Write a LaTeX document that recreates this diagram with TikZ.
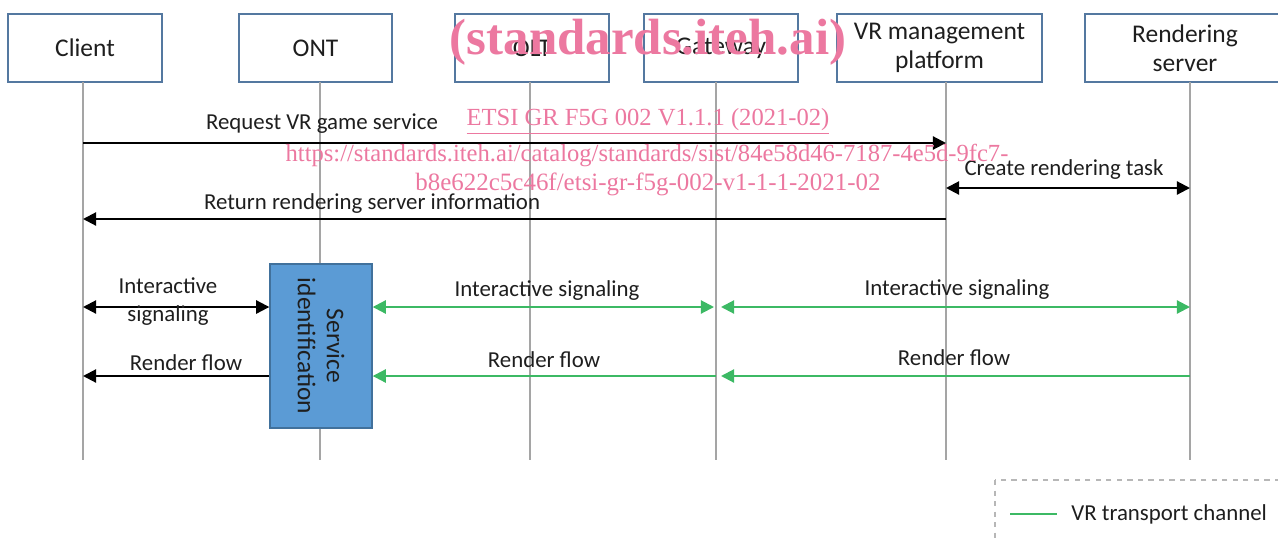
\documentclass[tikz,border=0pt]{standalone}
\usepackage{fontspec}
\setmainfont{Carlito}
\newfontfamily\wmfont{Liberation Serif}
\usetikzlibrary{arrows.meta}
\definecolor{boxborder}{RGB}{84,120,160}
\definecolor{lifegray}{RGB}{165,165,165}
\definecolor{vrgreen}{RGB}{60,185,100}
\definecolor{sidfill}{RGB}{91,155,213}
\definecolor{sidborder}{RGB}{65,113,156}
\definecolor{wmpink}{RGB}{236,120,160}
\definecolor{txt}{RGB}{30,30,30}
\begin{document}
\begin{tikzpicture}[x=0.02cm,y=-0.02cm,
  font=\fontsize{13}{16}\selectfont, text=txt,
  actor/.style={draw=boxborder, line width=1pt, fill=white, minimum height=1.36cm, align=center, inner sep=0pt, font=\fontsize{14.5}{16.5}\selectfont},
  life/.style={draw=lifegray, line width=0.9pt},
  tip/.tip={Triangle[length=7.5pt,width=7.5pt]},
  msg/.style={line width=1.2pt, draw=black, -tip},
  dmsg/.style={line width=1.2pt, draw=black, tip-tip},
  gmsg/.style={line width=1.2pt, draw=vrgreen, -tip},
  dgmsg/.style={line width=1.2pt, draw=vrgreen, tip-tip},
  lbl/.style={inner sep=0pt, align=center},
  sidbox/.style={draw=sidborder, line width=0.8pt, fill=sidfill, minimum width=2.04cm, minimum height=3.28cm, inner sep=0pt},
  wm/.style={text=wmpink, inner sep=0pt}
]
\useasboundingbox (0,0) rectangle (1278,538);

% actor boxes
\node[actor, minimum width=3.08cm] (client) at (85,48) {Client};
\node[actor, minimum width=3.06cm] (ont) at (315.5,48) {ONT};
\node[actor, minimum width=3.08cm] (olt) at (532,48) {OLT};
\node[actor, minimum width=3.08cm] (gw) at (721,48) {Gateway};
\node[actor, minimum width=4.1cm] (vr) at (939.5,48) {VR management\\platform};
\node[actor, minimum width=4.0cm] (rs) at (1185,48) {Rendering\\server};

% lifelines
\coordinate (Lcl) at (83,82);   \coordinate (Lclb) at (83,460);
\coordinate (Lont) at (320,82); \coordinate (Lontb) at (320,460);
\coordinate (Lolt) at (530,82); \coordinate (Loltb) at (530,460);
\coordinate (Lgw) at (716,82);  \coordinate (Lgwb) at (716,460);
\coordinate (Lvr) at (946,82);  \coordinate (Lvrb) at (946,460);
\coordinate (Lrs) at (1190,82); \coordinate (Lrsb) at (1190,460);
\foreach \a/\b in {Lcl/Lclb,Lont/Lontb,Lolt/Loltb,Lgw/Lgwb,Lvr/Lvrb,Lrs/Lrsb}
  \draw[life] (\a) -- (\b);

% rows
\coordinate (r1) at (0,143);
\coordinate (r2) at (0,188);
\coordinate (r3) at (0,219);
\coordinate (r4) at (0,307);
\coordinate (r5) at (0,376);

% service identification
\node[sidbox] (sid) at (321,346) {};
\node[rotate=-90, align=center, inner sep=0pt, font=\fontsize{14.5}{16.5}\selectfont] (sidtext) at (sid.center) {Service\\identification};

% messages
\draw[msg] (Lcl |- r1) -- (Lvr |- r1);
\node[lbl] (t1) at (322,124) {Request VR game service};
\draw[dmsg] (Lvr |- r2) -- (Lrs |- r2);
\node[lbl] (t2) at (1064,170) {Create rendering task};
\draw[msg] (Lvr |- r3) -- (Lcl |- r3);
\node[lbl] (t3) at (372,204) {Return rendering server information};

\draw[dmsg] (Lcl |- r4) -- (sid.west |- r4);
\node[lbl] (t4) at (168,302) {Interactive\\signaling};
\draw[msg] (sid.west |- r5) -- (Lcl |- r5);
\node[lbl] (t5) at (186,363) {Render flow};

\coordinate (gwL) at (714,0);
\coordinate (gwR) at (721,0);
\draw[dgmsg] (sid.east |- r4) -- (gwL |- r4);
\draw[dgmsg] (gwR |- r4) -- (Lrs |- r4);
\node[lbl] (t6) at (547,291) {Interactive signaling};
\node[lbl] (t7) at (957,290) {Interactive signaling};
\draw[gmsg] (Lrs |- r5) -- (gwR |- r5);
\draw[gmsg] (Lgw |- r5) -- (sid.east |- r5);
\node[lbl] (t8) at (544,360) {Render flow};
\node[lbl] (t9) at (954,358) {Render flow};

% legend
\draw[draw=lifegray!80, dashed, line width=0.6pt] (995,480) rectangle (1300,560);
\coordinate (lg1) at (1010,514);
\coordinate (lg2) at (1057,514);
\draw[vrgreen, line width=1.1pt] (lg1) -- (lg2);
\node[lbl, anchor=west] (lgt) at (1071,514) {VR transport channel};

% watermark
\node[wm, font=\wmfont\bfseries\fontsize{29}{32}\selectfont] (wm1) at (648,42) {(standards.iteh.ai)};
\node[wm, font=\wmfont\fontsize{14}{16}\selectfont] (wm2) at (648,121) {\underline{ETSI GR F5G 002 V1.1.1 (2021-02)}};
\node[wm, font=\wmfont\fontsize{14}{16}\selectfont] (wm3) at (647,155) {https://standards.iteh.ai/catalog/standards/sist/84e58d46-7187-4e5d-9fc7-};
\node[wm, font=\wmfont\fontsize{14.2}{16}\selectfont] (wm4) at (648,184) {b8e622c5c46f/etsi-gr-f5g-002-v1-1-1-2021-02};
\end{tikzpicture}
\end{document}
